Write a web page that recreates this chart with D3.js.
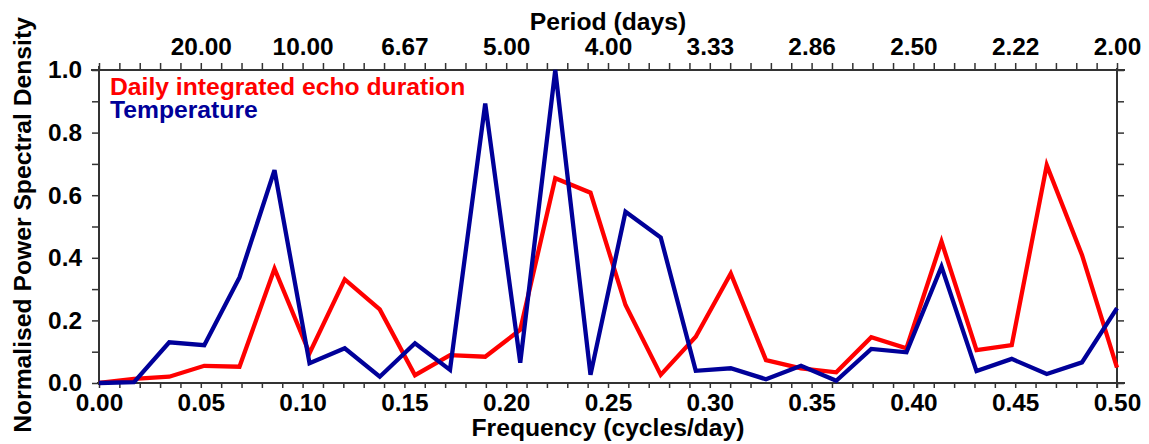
<!DOCTYPE html>
<html>
<head>
<meta charset="utf-8">
<script src="https://cdn.jsdelivr.net/npm/d3@7"></script>
<style>
  body { margin: 0; background: #fff; }
  svg text { font-family: "Liberation Sans", Arial, Helvetica, sans-serif; font-weight: bold; }
</style>
</head>
<body>
<div id="chart"></div>
<script>
// frequencies (cycles/day)
const freqs = [0, 0.0172, 0.0345, 0.0517, 0.0690, 0.0862, 0.1034, 0.1207, 0.1379, 0.1552,
  0.1724, 0.1897, 0.2069, 0.2241, 0.2414, 0.2586, 0.2759, 0.2931, 0.3103, 0.3276,
  0.3448, 0.3621, 0.3793, 0.3966, 0.4138, 0.4310, 0.4483, 0.4655, 0.4828, 0.5];

// normalised PSD, daily integrated echo duration
const echoPsd = [0, 0.013, 0.02, 0.055, 0.052, 0.365, 0.095, 0.331, 0.235, 0.025,
  0.089, 0.084, 0.17, 0.654, 0.608, 0.249, 0.026, 0.148, 0.35, 0.073,
  0.047, 0.034, 0.146, 0.111, 0.452, 0.105, 0.121, 0.696, 0.409, 0.049];

// normalised PSD, temperature
const tempPsd = [0, 0.003, 0.13, 0.121, 0.337, 0.68, 0.063, 0.111, 0.02, 0.127,
  0.042, 0.893, 0.065, 1.0, 0.026, 0.547, 0.465, 0.039, 0.047, 0.012,
  0.055, 0.007, 0.109, 0.098, 0.372, 0.038, 0.077, 0.029, 0.066, 0.239];

const seriesNames = ["Daily integrated echo duration", "Temperature"];
const seriesColors = ["#ff0000", "#000099"];

const xTicks = d3.range(0, 51).map(i => i / 100);
const yTicks = d3.range(0, 11).map(i => i / 10);

const w = 1149, h = 444;
const mLeft = 99, mRight = 1117, mTop = 70, mBottom = 383;
const tickFont = "24.4px", titleFont = "24.7px";

const svg = d3.select("#chart").append("svg")
  .attr("width", w).attr("height", h);

const x = d3.scaleLinear().domain([0, 0.5]).range([mLeft, mRight]);
const y = d3.scaleLinear().domain([0, 1]).range([mBottom, mTop]);

const isMajor = (v, step) => Math.abs(Math.round(v / step) * step - v) < 1e-6;
const axisColor = "#333";

// bottom axis
const gx = svg.append("g")
  .attr("transform", `translate(0,${mBottom})`)
  .call(d3.axisBottom(x).tickValues(xTicks).tickSize(5).tickSizeOuter(0)
    .tickFormat(d => isMajor(d, 0.05) ? d3.format(".2f")(d) : ""));
gx.select(".domain").remove();
gx.selectAll("text").attr("y", 28).attr("dy", null).style("font-size", tickFont).attr("fill", "#000");

// top axis, period labels
const gt = svg.append("g")
  .attr("transform", `translate(0,${mTop})`)
  .call(d3.axisTop(x).tickValues(xTicks).tickSize(7).tickSizeOuter(0)
    .tickFormat(d => (d > 0 && isMajor(d, 0.05)) ? (1 / d).toFixed(2) : ""));
gt.select(".domain").remove();
gt.selectAll("text").attr("y", -15).attr("dy", null).style("font-size", tickFont).attr("fill", "#000");

// left axis
const gy = svg.append("g")
  .attr("transform", `translate(${mLeft},0)`)
  .call(d3.axisLeft(y).tickValues(yTicks).tickSize(7).tickSizeOuter(0)
    .tickFormat(d => isMajor(d, 0.2) ? d3.format(".1f")(d) : ""));
gy.select(".domain").remove();
gy.selectAll("text").attr("x", -17).style("font-size", tickFont).attr("fill", "#000");

// right axis
const gr = svg.append("g")
  .attr("transform", `translate(${mRight},0)`)
  .call(d3.axisRight(y).tickValues(yTicks).tickSize(7).tickSizeOuter(0).tickFormat(""));
gr.select(".domain").remove();

svg.selectAll(".tick line").attr("stroke", axisColor).attr("stroke-width", 1.5);

// frame lines
const frame = svg.append("g").attr("stroke", axisColor).attr("stroke-width", 2);
frame.append("line").attr("x1", mLeft - 8).attr("x2", mRight + 8).attr("y1", mTop).attr("y2", mTop);
frame.append("line").attr("x1", mLeft - 2).attr("x2", mRight + 8).attr("y1", mBottom).attr("y2", mBottom);
frame.append("line").attr("x1", mLeft).attr("x2", mLeft).attr("y1", mTop - 4).attr("y2", mBottom + 2);
frame.append("line").attr("x1", mRight).attr("x2", mRight).attr("y1", mTop - 2).attr("y2", mBottom + 5);

// series
const line = d3.line().x(d => x(d[0])).y(d => y(d[1]));
[echoPsd, tempPsd].forEach((vals, i) => {
  svg.append("path")
    .datum(freqs.map((f, j) => [f, vals[j]]))
    .attr("d", line)
    .attr("fill", "none")
    .attr("stroke", seriesColors[i])
    .attr("stroke-width", 4.3)
    .attr("stroke-linejoin", "miter");
});

// legend
seriesNames.forEach((name, i) => {
  svg.append("text")
    .attr("x", 110).attr("y", 95 + i * 23)
    .attr("fill", seriesColors[i])
    .style("font-size", titleFont)
    .text(name);
});

// axis titles
svg.append("text")
  .attr("x", (mLeft + mRight) / 2).attr("y", 30)
  .attr("text-anchor", "middle").style("font-size", titleFont)
  .text("Period (days)");

svg.append("text")
  .attr("x", (mLeft + mRight) / 2).attr("y", 436)
  .attr("text-anchor", "middle").style("font-size", titleFont)
  .text("Frequency (cycles/day)");

svg.append("text")
  .attr("transform", `translate(31,225) rotate(-90)`)
  .attr("text-anchor", "middle").style("font-size", titleFont)
  .text("Normalised Power Spectral Density");
</script>
</body>
</html>
